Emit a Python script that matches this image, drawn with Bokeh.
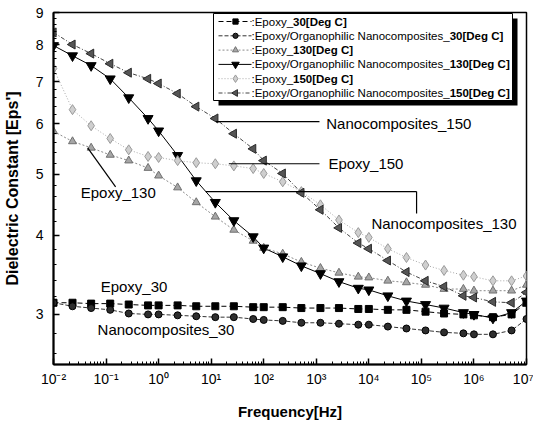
import math
from bokeh.plotting import figure
from bokeh.models import Range1d, FixedTicker, Label, CustomJSTickFormatter, PrintfTickFormatter
from bokeh.core.properties import value
from bokeh.embed import file_html
from bokeh.resources import INLINE

# ---------------- data ----------------
freq = [0.01, 0.023, 0.052, 0.12, 0.27, 0.63, 1, 2.3, 5.2, 12, 27, 63, 100, 230, 520,
        1200, 2700, 6300, 1e4, 2.3e4, 5.2e4, 1.2e5, 2.7e5, 6.3e5, 1e6, 2.3e6, 5.2e6, 1e7]

eps_epoxy_30 = [3.13, 3.13, 3.12, 3.12, 3.11, 3.10, 3.10, 3.10, 3.09, 3.09, 3.09, 3.08, 3.08, 3.08,
                3.07, 3.07, 3.07, 3.06, 3.06, 3.05, 3.05, 3.03, 3.01, 3.00, 2.99, 2.97, 3.00, 3.13]
eps_nano_30 = [3.13, 3.09, 3.07, 3.05, 3.01, 3.00, 3.00, 2.99, 2.98, 2.97, 2.97, 2.95, 2.94, 2.93,
               2.91, 2.91, 2.90, 2.89, 2.89, 2.87, 2.85, 2.83, 2.81, 2.80, 2.79, 2.79, 2.83, 2.95]
eps_epoxy_130 = [5.84, 5.63, 5.50, 5.36, 5.25, 5.11, 4.97, 4.76, 4.51, 4.28, 4.08, 3.92, 3.82, 3.74,
                 3.63, 3.55, 3.49, 3.44, 3.43, 3.39, 3.37, 3.34, 3.29, 3.29, 3.27, 3.27, 3.27, 3.34]
eps_nano_130 = [7.98, 7.69, 7.42, 7.07, 6.60, 6.12, 5.85, 5.35, 4.88, 4.51, 4.22, 3.98, 3.82, 3.70,
                3.58, 3.48, 3.38, 3.30, 3.28, 3.21, 3.15, 3.11, 3.07, 3.02, 3.00, 2.96, 3.02, 3.15]
eps_epoxy_150 = [7.34, 6.32, 5.96, 5.69, 5.46, 5.33, 5.31, 5.25, 5.21, 5.19, 5.15, 5.10, 5.01, 4.86,
                 4.69, 4.47, 4.23, 4.04, 3.97, 3.81, 3.69, 3.59, 3.52, 3.46, 3.44, 3.39, 3.39, 3.45]
eps_nano_150 = [8.37, 8.01, 7.75, 7.47, 7.23, 7.07, 6.95, 6.70, 6.39, 6.12, 5.79, 5.48, 5.25, 5.01,
                4.67, 4.39, 4.11, 3.89, 3.81, 3.65, 3.50, 3.39, 3.32, 3.21, 3.19, 3.14, 3.13, 3.25]

legend_plain = [":Epoxy_", ":Epoxy/Organophilic Nanocomposites_", ":Epoxy_",
                ":Epoxy/Organophilic Nanocomposites_", ":Epoxy_",
                ":Epoxy/Organophilic Nanocomposites_"]
legend_bold = ["30[Deg C]", "30[Deg C]", "130[Deg C]", "130[Deg C]", "150[Deg C]", "150[Deg C]"]

x_tick_values = [1e-2, 1e-1, 1e0, 1e1, 1e2, 1e3, 1e4, 1e5, 1e6, 1e7]
x_tick_labels = ["10\u207b\u00b2", "10\u207b\u00b9", "10\u2070", "10\u00b9", "10\u00b2",
                 "10\u00b3", "10\u2074", "10\u2075", "10\u2076", "10\u2077"]
y_tick_values = [3, 4, 5, 6, 7, 8, 9]

# annotation texts (anchored in frequency / eps' units)
ann_text = ["Nanocomposites_150", "Epoxy_150", "Nanocomposites_130", "Epoxy_130",
            "Epoxy_30", "Nanocomposites_30"]
ann_x = [1550, 1700, 11200, 0.033, 0.079, 0.069]
ann_y = [6.0, 5.19, 4.17, 4.68, 3.32, 2.835]
lead_x0 = [12.3, 21.7, 7.9, 81000, 0.0447]
lead_y0 = [6.05, 5.19, 4.69, 4.69, 5.50]
lead_x1 = [1150, 1150, 81000, 81000, 0.152]
lead_y1 = [6.05, 5.19, 4.69, 4.33, 4.77]

FONT = "Liberation Sans"

series = [
    dict(y=eps_epoxy_30, marker="square", size=7, fill="#000000", line="#000000",
         lcolor="#000000", dash="5 3", angle=0.0),
    dict(y=eps_nano_30, marker="circle", size=7, fill="#2e2e2e", line="#000000",
         lcolor="#333333", dash="4 2", angle=0.0),
    dict(y=eps_epoxy_130, marker="triangle", size=8, fill="#a6a6a6", line="#707070",
         lcolor="#8a8a8a", dash="2 2", angle=0.0),
    dict(y=eps_nano_130, marker="inverted_triangle", size=10, fill="#000000", line="#000000",
         lcolor="#000000", dash="solid", angle=0.0),
    dict(y=eps_epoxy_150, marker="diamond", size=10, fill="#cfcfcf", line="#9a9a9a",
         lcolor="#a8a8a8", dash="1 2", angle=0.0),
    dict(y=eps_nano_150, marker="triangle", size=9, fill="#555555", line="#2a2a2a",
         lcolor="#444444", dash="4 2 1 2", angle=math.pi / 2),
]

# ---------------- figure ----------------
X0, X1 = 1e-2, 1e7
Y0, Y1 = 2.5, 9.0
p = figure(width=533, height=424, x_axis_type="log", y_axis_type="log",
           x_range=Range1d(X0, X1), y_range=Range1d(Y0, Y1),
           output_backend="svg", toolbar_location=None,
           min_border_left=53, min_border_right=7, min_border_top=12, min_border_bottom=60)
p.grid.visible = False
p.outline_line_color = "black"
p.outline_line_width = 1.5
p.outline_line_alpha = 1.0
p.background_fill_color = "white"
p.border_fill_color = "white"

xminor = [m * 10.0 ** k for k in range(-2, 7) for m in range(2, 10)]
p.xaxis.ticker = FixedTicker(ticks=x_tick_values, minor_ticks=xminor)
p.xaxis.formatter = CustomJSTickFormatter(args=dict(vals=x_tick_values, labs=x_tick_labels), code="""
let best = 0, bd = Infinity;
for (let i = 0; i < vals.length; i++) {
  const d = Math.abs(Math.log10(vals[i]) - Math.log10(tick));
  if (d < bd) { bd = d; best = i; }
}
return labs[best];
""")
yminor = [round(2.6 + 0.2 * i, 1) for i in range(33)]
yminor = [v for v in yminor if v <= 9 and abs(v - round(v)) > 1e-6]
p.yaxis.ticker = FixedTicker(ticks=y_tick_values, minor_ticks=yminor)
p.yaxis.formatter = PrintfTickFormatter(format="%d")

for ax in (p.xaxis[0], p.yaxis[0]):
    ax.axis_line_width = 2
    ax.axis_line_color = "black"
    ax.major_tick_in = 6
    ax.major_tick_out = 0
    ax.minor_tick_in = 3
    ax.minor_tick_out = 0
    ax.major_tick_line_width = 1.5
    ax.minor_tick_line_width = 1
    ax.major_tick_line_color = "black"
    ax.minor_tick_line_color = "black"
    ax.major_label_text_font = FONT
    ax.major_label_text_color = "black"
    ax.axis_label_text_font = FONT
    ax.axis_label_text_font_style = "bold"
    ax.axis_label_text_color = "black"

p.xaxis.major_label_text_font_size = "14px"
p.xaxis.major_label_standoff = 6
p.xaxis.axis_label = "Frequency[Hz]"
p.xaxis.axis_label_text_font_size = "15px"
p.xaxis.axis_label_standoff = 13

p.yaxis.major_label_text_font_size = "14px"
p.yaxis.major_label_standoff = 10
p.yaxis.axis_label = "Dielectric Constant [Eps']"
p.yaxis.axis_label_text_font_size = "16px"
p.yaxis.axis_label_standoff = 12

# data
for s in series:
    p.line(freq, s["y"], line_color=s["lcolor"], line_width=1, line_dash=s["dash"])
for s in series:
    p.scatter(freq, s["y"], marker=s["marker"], size=s["size"], fill_color=s["fill"],
              line_color=s["line"], line_width=1, angle=s["angle"])

# annotations
p.segment(x0=lead_x0, y0=lead_y0, x1=lead_x1, y1=lead_y1, line_color="black", line_width=1.2)
for t, ax_, ay_ in zip(ann_text, ann_x, ann_y):
    p.add_layout(Label(x=ax_, y=ay_, text=t, text_font=FONT, text_font_size="15px",
                       text_baseline="middle", text_align="left", text_color="black"))

# ---------------- legend (layout in page pixels) ----------------
FL, FR, FT, FB = 53.0, 526.0, 12.0, 364.0
def px_x(px):
    lx0, lx1 = math.log10(X0), math.log10(X1)
    return 10 ** (lx0 + (px - FL) / (FR - FL) * (lx1 - lx0))
def px_y(py):
    ly0, ly1 = math.log10(Y0), math.log10(Y1)
    return 10 ** (ly1 - (py - FT) / (FB - FT) * (ly1 - ly0))

AR = {' ': 278, '/': 278, '_': 556, ':': 278, '[': 278, ']': 278, 'E': 667, 'p': 556, 'o': 556,
      'x': 500, 'y': 500, 'O': 778, 'r': 333, 'g': 556, 'a': 556, 'n': 556, 'h': 556, 'i': 222,
      'l': 222, 'c': 500, 'N': 722, 'm': 833, 's': 500, 't': 278, 'e': 556, 'D': 722, 'C': 722}
def text_w(s, fs):
    return sum(AR.get(c, 556) for c in s) * fs / 1000.0

LFS = 11.5
p.quad(left=[px_x(218)], right=[px_x(517)], top=[px_y(18)], bottom=[px_y(105)],
       fill_color="black", line_color=None)
p.quad(left=[px_x(213)], right=[px_x(512)], top=[px_y(13)], bottom=[px_y(100)],
       fill_color="white", line_color="black", line_width=1)
for i, s in enumerate(series):
    ry = 21 + 14.3 * i
    yy = px_y(ry)
    p.line([px_x(218), px_x(251)], [yy, yy], line_color=s["lcolor"], line_width=1,
           line_dash=s["dash"])
    p.scatter([px_x(235)], [yy], marker=s["marker"], size=s["size"] * 0.75,
              fill_color=s["fill"], line_color=s["line"], angle=s["angle"])
    p.text([px_x(251)], [yy], text=[legend_plain[i]], text_font=value(FONT),
           text_font_size=value(f"{LFS}px"), text_baseline="middle", text_align="left",
           text_color="black")
    p.text([px_x(251)], [yy], text=[legend_bold[i]], text_font=value(FONT),
           text_font_size=value(f"{LFS}px"), text_font_style="bold",
           text_baseline="middle", text_align="left", text_color="black",
           x_offset=text_w(legend_plain[i], LFS))

open("out.html", "w").write(file_html(p, INLINE))
